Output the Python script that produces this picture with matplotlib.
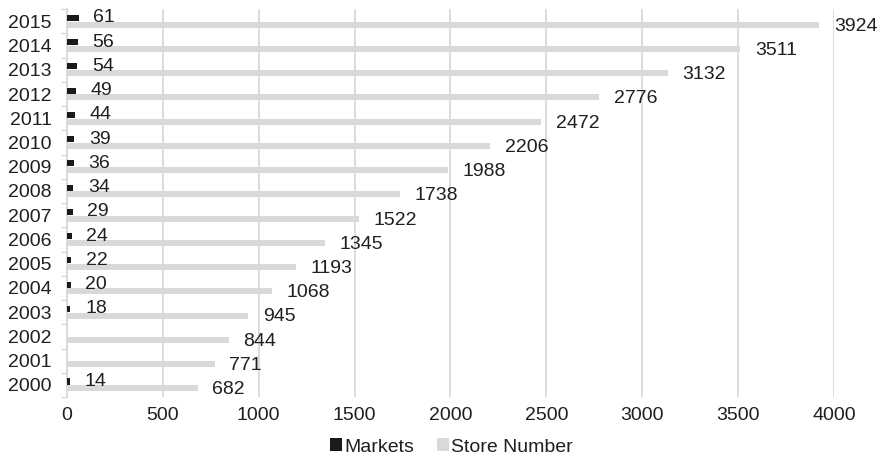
import numpy as np
import matplotlib.pyplot as plt
from matplotlib.ticker import FixedLocator

plt.rcParams["font.family"] = ["Liberation Sans", "DejaVu Sans"]

# ------------------------ #
# DATA
# ------------------------ #

years = [str(y) for y in range(2000, 2016)]

markets = [14, np.nan, np.nan, 18, 20, 22, 24, 29,
           34, 36, 39, 44, 49, 54, 56, 61]

store_number = [682, 771, 844, 945, 1068, 1193, 1345, 1522,
                1738, 1988, 2206, 2472, 2776, 3132, 3511, 3924]

xticks = [0, 500, 1000, 1500, 2000, 2500, 3000, 3500, 4000]

# ------------------------ #
# PLOTTING
# ------------------------ #

black = "#1a1a1a"
grey = "#d9d9d9"
txt = "#1f1f1f"
fs = 14

fig = plt.figure(figsize=(8.8, 4.59), dpi=100)
ax = fig.add_axes([0.0761, 0.135, 0.8716, 0.845])

y = np.arange(len(years))
off_m, off_s, h = 0.14, -0.14, 0.25

ax.barh(y + off_m, markets, height=h, color=black, label="Markets", zorder=3)
ax.barh(y + off_s, store_number, height=h, color=grey, label="Store Number", zorder=3)

# value labels to the right of each bar
for yi, m, s in zip(y, markets, store_number):
    if not np.isnan(m):
        ax.annotate(f"{m:g}", (m, yi + off_m), xytext=(10.5, 0),
                    textcoords="offset points", va="center", ha="left",
                    fontsize=fs, color=txt)
    ax.annotate(f"{s}", (s, yi + off_s), xytext=(10.5, -1),
                textcoords="offset points", va="center", ha="left",
                fontsize=fs, color=txt, annotation_clip=False)

# cosmetics
ax.set_xlim(0, 4000)
ax.set_ylim(-0.5, len(years) - 0.5)
ax.set_xticks(xticks)
ax.set_yticks(y)
ax.set_yticklabels(years)
ax.yaxis.set_minor_locator(FixedLocator(np.arange(-0.5, len(years), 1.0)))

ax.tick_params(axis="x", length=0, pad=7.5, labelsize=fs, colors=txt)
ax.tick_params(axis="y", which="major", length=0, pad=11, labelsize=fs,
               colors=txt)
ax.tick_params(axis="y", which="minor", length=4, width=1, color=grey)

ax.grid(axis="x", color=grey, linewidth=1.3, zorder=0)
for side in ["top", "right", "bottom"]:
    ax.spines[side].set_visible(False)
ax.spines["left"].set_color(grey)
ax.spines["left"].set_linewidth(1.3)

fig.legend(*ax.get_legend_handles_labels(), loc="center",
           bbox_to_anchor=(0.513, 1 - 447 / 459), ncols=2,
           frameon=False, fontsize=fs, handlelength=0.62, handleheight=0.62,
           handletextpad=0.08, columnspacing=1.2, labelcolor=txt,
           borderpad=0, borderaxespad=0)

plt.savefig("out.png", dpi=100)
